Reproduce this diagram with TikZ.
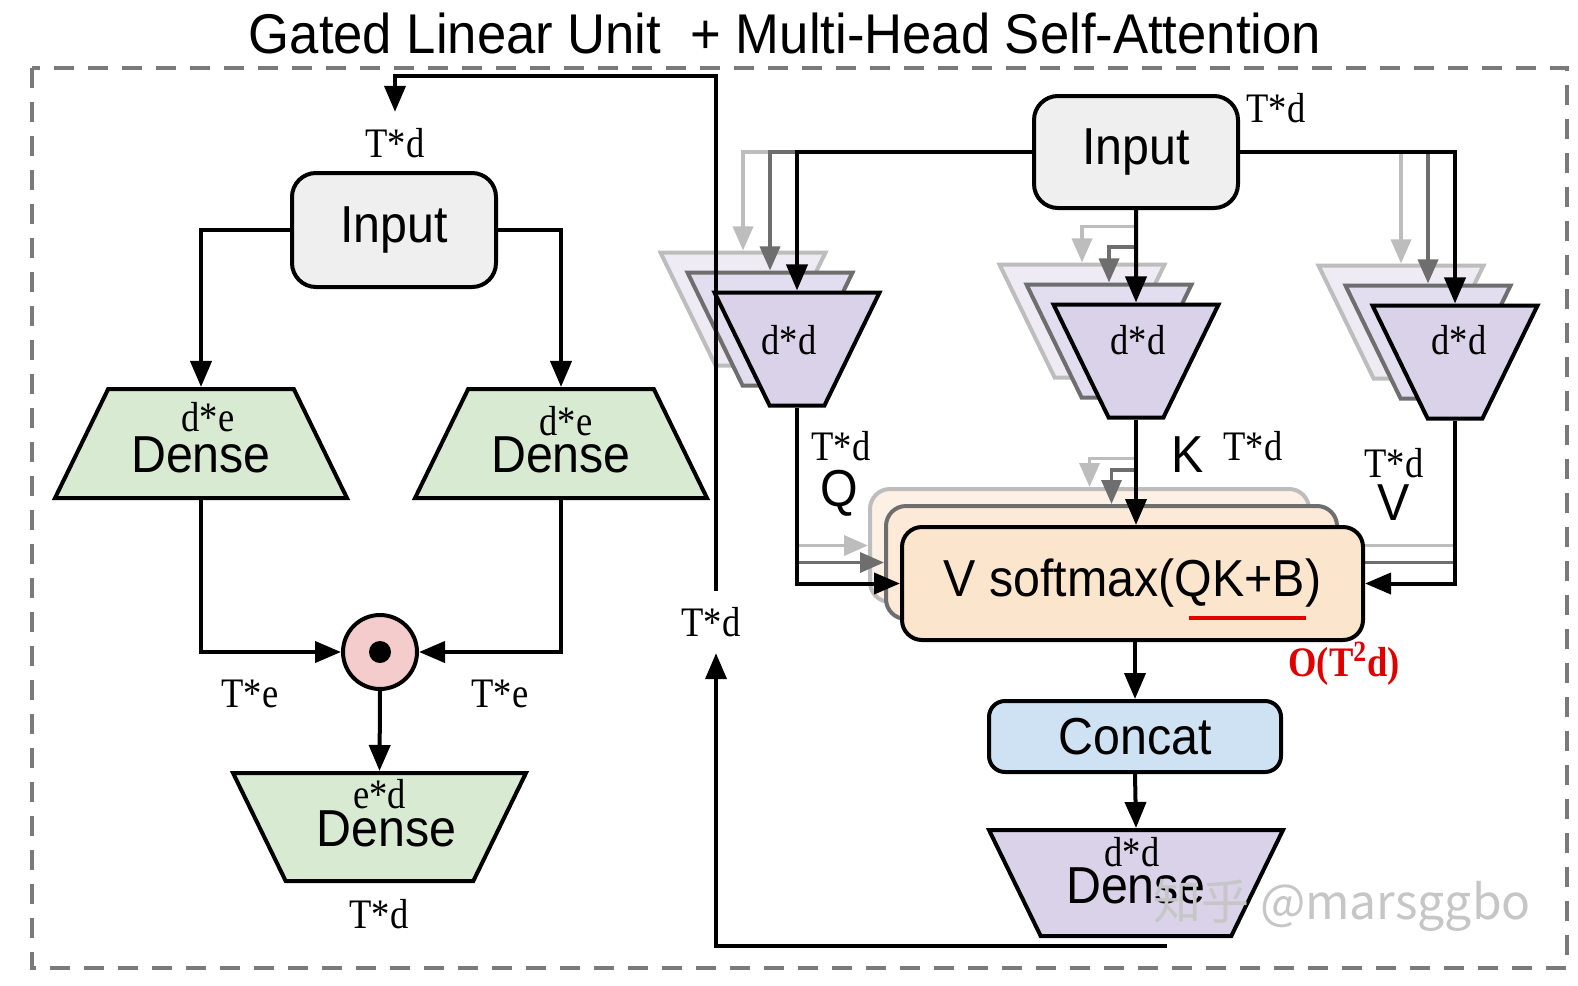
\documentclass[tikz,border=0pt]{standalone}
\usepackage{fontspec}
\usepackage{graphicx}
\setmainfont{Liberation Serif}
\setsansfont{Liberation Sans}
\newfontfamily\zhfont{Noto Sans CJK SC}
\usepackage{tikz}
\usetikzlibrary{shapes.geometric, arrows.meta, positioning, calc}
\definecolor{InGray}{HTML}{EFEFEF}
\definecolor{GLUGreen}{HTML}{D9EAD3}
\definecolor{GatePink}{HTML}{F4CCCC}
\definecolor{MHAPurple}{HTML}{D9D2E9}
\definecolor{PurpleMid}{HTML}{E3DEEF}
\definecolor{PurpleBack}{HTML}{EEEBF5}
\definecolor{AttPeach}{HTML}{FCE5CD}
\definecolor{AttPeachMid}{HTML}{FCE9D7}
\definecolor{AttPeachBack}{HTML}{FDF1E6}
\definecolor{ConcatBlue}{HTML}{CFE2F3}
\definecolor{ShadeMid}{HTML}{6E6E6E}
\definecolor{ShadeLight}{HTML}{BDBDBD}
\definecolor{FrameGray}{HTML}{7A7A7A}
\definecolor{CostRed}{HTML}{E00000}
\newcommand{\dimtxt}[1]{{\fontsize{21}{22}\selectfont\scalebox{0.87}[1]{#1}}}
\newcommand{\blocktxt}[1]{{\sffamily\fontsize{26}{28}\selectfont\scalebox{0.93}[1]{#1}}}
\pgfdeclarelayer{paper}
\pgfdeclarelayer{back}
\pgfdeclarelayer{mid}
\pgfsetlayers{paper,back,mid,main}

\begin{document}
\begin{tikzpicture}[x=0.5pt,y=-0.5pt,
    arr/.style={draw=black, line width=2pt, -{Triangle[length=13pt,width=10.5pt]}},
    arrmid/.style={draw=ShadeMid, line width=1.8pt, -{Triangle[length=12pt,width=10pt]}},
    arrlight/.style={draw=ShadeLight, line width=1.8pt, -{Triangle[length=12pt,width=10pt]}},
    inbox/.style={draw, line width=2pt, rounded corners=12pt, fill=InGray, minimum width=102pt, minimum height=57pt, inner sep=0pt},
    trap/.style n args={2}{trapezium, trapezium angle=64, line width=2pt, inner sep=0pt,
      text width=#1, text height=#2, text depth=0pt},
    upside/.style={shape border rotate=180},
    dense/.style={trap={92.8pt}{54.5pt}, draw, fill=GLUGreen},
    proj/.style={trap={27.4pt}{56.5pt}, upside},
    projback/.style={proj, draw=ShadeLight, fill=PurpleBack},
    projmid/.style={proj, draw=ShadeMid, fill=PurpleMid},
    projfront/.style={proj, draw=black, fill=MHAPurple},
    attbox/.style={rounded corners=10pt, line width=2pt, minimum height=56.5pt, inner sep=0pt},
    dimlbl/.style={inner sep=0pt}]
  \begin{pgfonlayer}{paper}
    \fill[white] (0,0) rectangle (1578,985);
  \end{pgfonlayer}
  \path[use as bounding box] (0,0) rectangle (1578,985);
  \draw[FrameGray, line width=2pt, dash pattern=on 10pt off 7pt] (32,68) rectangle (1567,968);
  \node (title) at (785,33) {\sffamily\fontsize{28}{30}\selectfont\scalebox{0.94}[1]{Gated Linear Unit\ \ + Multi-Head Self-Attention}};

  % gated linear unit
  \node[inbox] (inl) at (394,230) {\blocktxt{Input}};
  \node[dense] (dl) at (201,443.5) {};
  \node[dense] (dr) at (561,443.5) {};
  \node[draw, circle, line width=2pt, fill=GatePink, minimum size=37pt, inner sep=0pt] (gate) at (380,652) {};
  \fill (gate.center) circle[radius=5.5pt];
  \node[dense, upside, trap={93.8pt}{54pt}] (dd) at (379.5,827) {};
  \node[dimlbl] (dlw) at ($(dl.center)+(7,-26)$) {\dimtxt{d*e}};
  \node[dimlbl] (dltxt) at ($(dl.center)+(0,11)$) {\blocktxt{Dense}};
  \node[dimlbl] (drw) at ($(dr.center)+(5,-22)$) {\dimtxt{d*e}};
  \node[dimlbl] (drtxt) at ($(dr.center)+(0,11)$) {\blocktxt{Dense}};
  \node[dimlbl] (ddw) at ($(dd.center)+(0,-33)$) {\dimtxt{e*d}};
  \node[dimlbl] (ddtxt) at ($(dd.center)+(7,2)$) {\blocktxt{Dense}};
  \node[dimlbl] (tel) at (250,694) {\dimtxt{T*e}};
  \node[dimlbl] (ter) at (500,694) {\dimtxt{T*e}};
  \node[dimlbl] (tdout) at (379,914) {\dimtxt{T*d}};
  \draw[arr] (inl.west) -| (dl.north);
  \draw[arr] (inl.east) -| (dr.north);
  \draw[arr] (dl.south) |- (gate.west);
  \draw[arr] (dr.south) |- (gate.east);
  \draw[arr] (gate.south) -- (dd.north);

  % multi-head self-attention
  \node[inbox, minimum height=56pt] (inr) at (1136,152) {\blocktxt{Input}};
  \node[dimlbl] (tdin) at (1276,108) {\dimtxt{T*d}};
  \foreach \h/\x/\y in {q/797/349, k/1136/361, v/1455/362}{
    \node[projfront] (\h1) at (\x,\y) {};
  }
  \node[dimlbl] (qw) at ($(q1.center)+(-8,-9)$) {\dimtxt{d*d}};
  \node[dimlbl] (kw) at ($(k1.center)+(2,-21)$) {\dimtxt{d*d}};
  \node[dimlbl] (vw) at ($(v1.center)+(4,-22)$) {\dimtxt{d*d}};
  \node[attbox, draw=black, fill=AttPeach, minimum width=230.5pt] (att1) at (1132.5,583.5) {\blocktxt{V softmax(QK+B)}};

  \begin{pgfonlayer}{back}
    \foreach \h/\x/\y in {q/797/349, k/1136/361, v/1455/362}{
      \node[projback] (\h3) at (\x-54,\y-40) {};
    }
    \node[attbox, draw=ShadeLight, fill=AttPeachBack, minimum width=219.5pt] (att3) at (1089.5,545.5) {};
    \draw[arrlight] (q1.north |- inr.west) -| (q3.north);
    \draw[arrlight] ($(inr.south)!0.18!(k1.north)$) -| (k3.north);
    \draw[arrlight] (v1.north |- inr.east) -| (v3.north);
    \draw[arrlight] (q1.south |- att3.west) -- (att3.west);
    \draw[arrlight] ($(k1.south)!0.37!(k1.south |- att1.north)$) -| (att3.north);
    \draw[arrlight] (v1.south |- att3.east) -- (att3.east);
  \end{pgfonlayer}
  \begin{pgfonlayer}{mid}
    \foreach \h/\x/\y in {q/797/349, k/1136/361, v/1455/362}{
      \node[projmid] (\h2) at (\x-27,\y-20) {};
    }
    \node[attbox, draw=ShadeMid, fill=AttPeachMid, minimum width=225.5pt] (att2) at (1111.5,562.5) {};
    \draw[arrmid] (q1.north |- inr.west) -| (q2.north);
    \draw[arrmid] ($(inr.south)!0.4!(k1.north)$) -| (k2.north);
    \draw[arrmid] (v1.north |- inr.east) -| (v2.north);
    \draw[arrmid] (q1.south |- att2.west) -- (att2.west);
    \draw[arrmid] ($(k1.south)!0.48!(k1.south |- att1.north)$) -| (att2.north);
    \draw[arrmid] (v1.south |- att2.east) -- (att2.east);
  \end{pgfonlayer}

  \draw[arr] (inr.west) -| (q1.north);
  \draw[arr] (inr.south) -- (k1.north);
  \draw[arr] (inr.east) -| (v1.north);
  \draw[arr] (q1.south) |- (att1.west);
  \draw[arr] (k1.south) -- (k1.south |- att1.north);
  \draw[arr] (v1.south) |- (att1.east);
  \node[dimlbl] (tdq) at (841,446) {\dimtxt{T*d}};
  \node[dimlbl] (qlbl) at (839,493) {\blocktxt{Q}};
  \node[dimlbl] (klbl) at (1188,455) {\blocktxt{K}};
  \node[dimlbl] (tdk) at (1253,446) {\dimtxt{T*d}};
  \node[dimlbl] (tdv) at (1394,463) {\dimtxt{T*d}};
  \node[dimlbl] (vlbl) at (1394,503) {\blocktxt{V}};
  \draw[CostRed, line width=2pt] ($(att1.center)+(56,34)$) -- ($(att1.center)+(173,34)$);
  \node[dimlbl, text=CostRed] (cost) at (1344,664) {\dimtxt{\bfseries O(T\textsuperscript{2}d)}};

  \node[draw, line width=2pt, rounded corners=8pt, fill=ConcatBlue, minimum width=146pt, minimum height=35.5pt, inner sep=0pt] (concat) at (1135,736.5) {\blocktxt{Concat}};
  \node[dense, upside, trap={95.3pt}{53pt}, fill=MHAPurple] (dp) at (1136,883) {};
  \node[dimlbl] (dpw) at ($(dp.center)+(-4,-31)$) {\dimtxt{d*d}};
  \node[dimlbl] (dptxt) at ($(dp.center)+(0,3)$) {\blocktxt{Dense}};
  \draw[arr] (concat.north |- att1.south) -- (concat.north);
  \draw[arr] (concat.south) -- (dp.north);

  % residual path back to the GLU input
  \coordinate (fbend) at (1167,946);
  \coordinate (fbtop) at (716,76);
  \node[dimlbl, inner sep=8pt] (tdmid) at (711,622) {\dimtxt{T*d}};
  \node[dimlbl, inner sep=8pt] (tdtop) at (395,143) {\dimtxt{T*d}};
  \draw[arr] (fbend) -| ([xshift=2.5pt]tdmid.south);
  \draw[arr] ([xshift=2.5pt]tdmid.north) -- (fbtop) -| (tdtop.north);

  \node[text=gray!45] (mark) at (1342,905) {\zhfont\fontsize{24}{26}\selectfont 知乎\ @marsggbo};
\end{tikzpicture}
\end{document}
